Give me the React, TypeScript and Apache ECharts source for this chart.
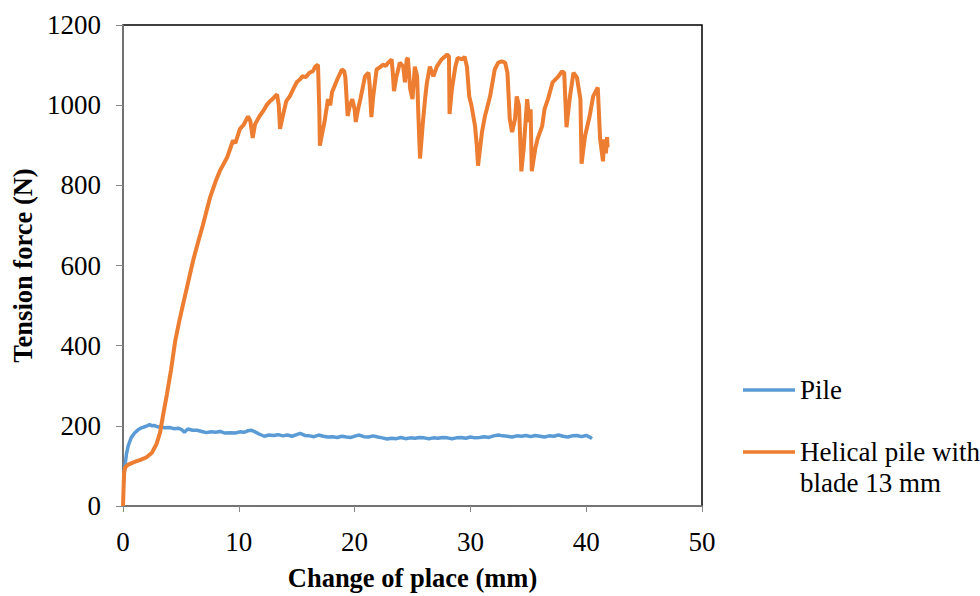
import React, { useEffect, useRef } from "react";
import * as echarts from "echarts";

const xTicks = [0, 10, 20, 30, 40, 50];
const yTicks = [0, 200, 400, 600, 800, 1000, 1200];

const pileName = "Pile";
const helicalName = "Helical pile with blade 13 mm";

const pileData: number[][] = [
  [0.05, 60], [0.15, 95], [0.3, 130], [0.45, 150], [0.7, 170], [1.0, 182], [1.3, 190], [1.6, 195],
  [2.0, 199], [2.3, 203], [2.5, 200], [2.7, 201], [3.0, 197], [3.3, 198], [3.6, 195], [4.0, 196],
  [4.4, 193], [4.8, 194], [5.1, 190], [5.3, 184], [5.6, 192], [6.0, 189], [6.4, 189], [6.8, 186],
  [7.2, 183], [7.6, 185], [8.0, 184], [8.4, 186], [8.8, 182], [9.3, 183], [9.7, 182], [10.1, 185],
  [10.5, 184], [10.8, 188], [11.1, 189], [11.4, 185], [11.8, 179], [12.2, 174], [12.6, 177], [13.0, 176],
  [13.4, 178], [13.8, 175], [14.2, 177], [14.6, 174], [15.0, 178], [15.3, 181], [15.7, 176], [16.1, 175],
  [16.5, 173], [16.9, 177], [17.3, 174], [17.7, 172], [18.1, 173], [18.5, 171], [18.9, 174], [19.3, 172],
  [19.7, 171], [20.1, 175], [20.4, 177], [20.8, 173], [21.2, 172], [21.6, 175], [22.0, 172], [22.4, 170],
  [22.8, 167], [23.2, 169], [23.6, 168], [24.0, 171], [24.4, 168], [24.8, 170], [25.2, 169], [25.6, 171],
  [26.0, 170], [26.4, 168], [26.8, 170], [27.2, 169], [27.6, 171], [28.0, 170], [28.4, 168], [28.8, 170],
  [29.2, 171], [29.6, 169], [30.0, 172], [30.4, 170], [30.8, 171], [31.2, 173], [31.6, 171], [32.0, 175],
  [32.4, 177], [32.8, 175], [33.2, 174], [33.6, 172], [34.0, 175], [34.4, 174], [34.8, 176], [35.2, 173],
  [35.6, 176], [36.0, 174], [36.4, 172], [36.8, 175], [37.2, 174], [37.6, 177], [38.0, 174], [38.4, 172],
  [38.8, 175], [39.2, 176], [39.6, 173], [40.0, 176], [40.3, 172], [40.5, 168],
];

const helicalData: number[][] = [
  [0, 0], [0.05, 45], [0.1, 85], [0.2, 97], [0.5, 104], [1.0, 110], [1.5, 115], [2.0, 121], [2.5, 133],
  [2.9, 155], [3.2, 183], [3.45, 225], [3.8, 280], [4.15, 340], [4.5, 410], [4.85, 460], [5.2, 505],
  [5.6, 555], [6.05, 612], [6.5, 660], [6.9, 701], [7.5, 768], [8.0, 810], [8.4, 838], [9.0, 870],
  [9.3, 895], [9.5, 912], [9.7, 905], [10.1, 941], [10.4, 950], [10.8, 972], [11.0, 960], [11.2, 918],
  [11.4, 952], [11.8, 973], [12.1, 985], [12.4, 1000], [12.7, 1010], [13.0, 1018], [13.3, 1027],
  [13.45, 1000], [13.56, 941], [13.8, 973], [14.1, 1010], [14.4, 1022], [14.7, 1040], [15.0, 1057],
  [15.3, 1065], [15.5, 1072], [15.8, 1070], [16.1, 1081], [16.4, 1085], [16.6, 1096], [16.84, 1101],
  [16.95, 990], [17.0, 899], [17.2, 930], [17.4, 958], [17.7, 1015], [17.9, 1000], [18.05, 1032],
  [18.5, 1064], [18.9, 1089], [19.1, 1085], [19.2, 1070], [19.4, 973], [19.6, 1000], [19.8, 1015],
  [20.0, 990], [20.1, 958], [20.3, 990], [20.5, 1015], [20.9, 1072], [21.2, 1081], [21.3, 1050],
  [21.45, 970], [21.6, 1020], [21.9, 1089], [22.2, 1095], [22.45, 1101], [22.7, 1098], [22.9, 1106],
  [23.2, 1114], [23.3, 1080], [23.4, 1035], [23.6, 1070], [23.7, 1081], [23.9, 1106], [24.1, 1100],
  [24.2, 1096], [24.35, 1057], [24.5, 1114], [24.6, 1118], [24.7, 1080], [24.8, 1040], [25.0, 1015],
  [25.2, 1096], [25.4, 1072], [25.5, 980], [25.65, 867], [25.9, 958], [26.1, 1020], [26.25, 1057],
  [26.5, 1096], [26.8, 1072], [27.1, 1096], [27.5, 1114], [28.0, 1126], [28.15, 1121], [28.2, 978],
  [28.4, 1040], [28.7, 1096], [28.9, 1118], [29.3, 1114], [29.5, 1121], [29.7, 1096], [29.9, 1022],
  [30.1, 998], [30.4, 948], [30.55, 900], [30.66, 849], [31.0, 933], [31.26, 973], [31.7, 1022],
  [32.1, 1089], [32.4, 1106], [32.7, 1109], [33.0, 1106], [33.2, 1081], [33.4, 965], [33.6, 933],
  [33.85, 965], [34.0, 1022], [34.2, 998], [34.4, 835], [34.6, 891], [34.9, 1015], [35.1, 958],
  [35.2, 990], [35.3, 835], [35.6, 891], [35.8, 916], [36.2, 948], [36.4, 990], [36.7, 1015],
  [37.1, 1057], [37.6, 1072], [37.9, 1084], [38.1, 1081], [38.3, 945], [38.6, 1022], [38.9, 1081],
  [39.2, 1069], [39.5, 1015], [39.6, 854], [39.9, 923], [40.3, 973], [40.6, 1022], [41.0, 1044],
  [41.2, 916], [41.45, 860], [41.55, 915], [41.7, 880], [41.8, 920], [41.85, 895],
];

const FONT = "Liberation Serif";
const BLUE = "#5B9BD5";
const ORANGE = "#ED7D31";

export default function App() {
  const ref = useRef<HTMLDivElement>(null);
  useEffect(() => {
    if (!ref.current) return;
    const chart = echarts.init(ref.current, null, { renderer: "svg" });
    const legendText = (text: string, y: number) => ({
      type: "text",
      x: 800,
      y,
      style: { text, fontFamily: FONT, fontSize: 27, fill: "#000", verticalAlign: "middle", align: "left" },
    });
    chart.setOption({
      animation: false,
      backgroundColor: "#ffffff",
      textStyle: { fontFamily: FONT },
      grid: {
        left: 123,
        top: 25,
        width: 579,
        height: 486,
        show: true,
        borderColor: "#000000",
        borderWidth: 1.5,
      },
      xAxis: {
        type: "value",
        min: xTicks[0],
        max: xTicks[xTicks.length - 1],
        interval: 10,
        name: "Change of place (mm)",
        nameLocation: "middle",
        nameGap: 58,
        nameTextStyle: { fontFamily: FONT, fontSize: 26.5, fontWeight: "bold", color: "#000" },
        axisLine: { lineStyle: { color: "#868686", width: 1.5 } },
        axisTick: { show: true, length: 6, lineStyle: { color: "#868686" } },
        axisLabel: { fontFamily: FONT, fontSize: 27, color: "#000", margin: 22, formatter: (v: number) => String(v) },
        splitLine: { show: false },
      },
      yAxis: {
        type: "value",
        min: yTicks[0],
        max: yTicks[yTicks.length - 1],
        interval: 200,
        name: "Tension force (N)",
        nameLocation: "middle",
        nameGap: 87,
        nameRotate: 90,
        nameTextStyle: { fontFamily: FONT, fontSize: 26.5, fontWeight: "bold", color: "#000" },
        axisLine: { show: true, lineStyle: { color: "#868686", width: 1.5 } },
        axisTick: { show: true, length: 7, lineStyle: { color: "#868686" } },
        axisLabel: { fontFamily: FONT, fontSize: 27, color: "#000", margin: 22, formatter: (v: number) => String(v) },
        splitLine: { show: false },
      },
      series: [
        {
          name: pileName,
          type: "line",
          data: pileData,
          showSymbol: false,
          lineStyle: { color: BLUE, width: 3.5 },
          itemStyle: { color: BLUE },
          z: 2,
        },
        {
          name: helicalName,
          type: "line",
          data: helicalData,
          showSymbol: false,
          lineStyle: { color: ORANGE, width: 4 },
          itemStyle: { color: ORANGE },
          z: 3,
        },
      ],
      graphic: [
        { type: "line", shape: { x1: 743, y1: 390, x2: 795, y2: 390 }, style: { stroke: BLUE, lineWidth: 3.5 } },
        legendText("Pile", 390),
        { type: "line", shape: { x1: 743, y1: 452, x2: 795, y2: 452 }, style: { stroke: ORANGE, lineWidth: 3.5 } },
        legendText("Helical pile with", 452),
        legendText("blade 13 mm", 483),
      ],
    });
    return () => chart.dispose();
  }, []);
  return <div ref={ref} style={{ width: 980, height: 596, position: "absolute", left: 0, top: 0 }} />;
}
